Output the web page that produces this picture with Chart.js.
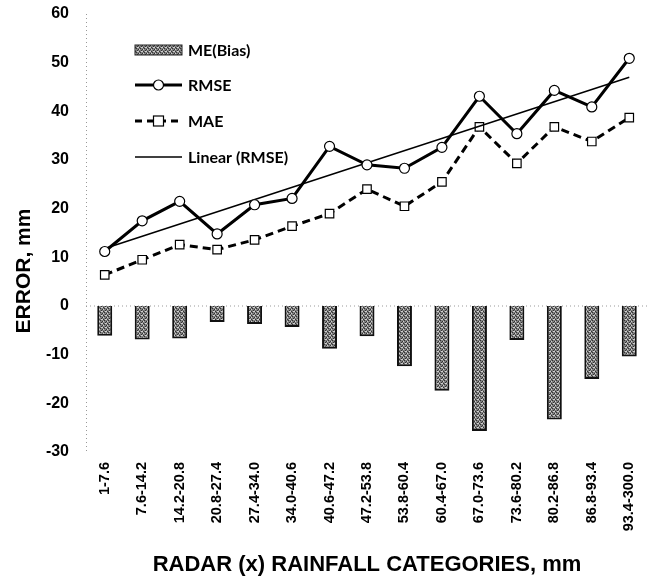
<!DOCTYPE html>
<html>
<head>
<meta charset="utf-8">
<script src="https://cdn.jsdelivr.net/npm/chart.js@4"></script>
<style>
    html, body { margin: 0; padding: 0; background: #fff; }
    #wrap { width: 649px; height: 581px; }
</style>
</head>
<body>
<div id="wrap"><canvas id="chart" width="649" height="581"></canvas></div>
<script>
const categories = ['1-7.6', '7.6-14.2', '14.2-20.8', '20.8-27.4', '27.4-34.0', '34.0-40.6', '40.6-47.2', '47.2-53.8',
    '53.8-60.4', '60.4-67.0', '67.0-73.6', '73.6-80.2', '80.2-86.8', '86.8-93.4', '93.4-300.0']
const meBias = [-6.1, -6.9, -6.7, -3.3, -3.7, -4.3, -8.8, -6.2, -12.4, -17.4, -25.7, -7.0, -23.3, -15.0, -10.4]
const rmse = [11.2, 17.5, 21.5, 14.8, 20.8, 22.1, 32.8, 29.0, 28.3, 32.6, 43.1, 35.4, 44.3, 40.9, 50.9]
const mae = [6.4, 9.5, 12.6, 11.6, 13.6, 16.4, 19.0, 24.0, 20.5, 25.5, 36.8, 29.3, 36.8, 33.8, 38.7]
// trend line ends
const rmseTrend = [11.8, null, null, null, null, null, null, null, null, null, null, null, null, null, 47.0]
const yMin = -30
const yMax = 60
const yStep = 10

const FONT = '"Liberation Sans", Arial, sans-serif'

// stippled grey fill for the bars
function stipple() {
    const c = document.createElement('canvas')
    c.width = 4
    c.height = 4
    const g = c.getContext('2d')
    g.fillStyle = '#808080'
    g.fillRect(0, 0, 4, 4)
    g.fillStyle = '#333'
    g.fillRect(0, 0, 1, 1)
    g.fillRect(2, 1, 1, 1)
    g.fillRect(1, 2, 1, 1)
    g.fillRect(3, 3, 1, 1)
    g.fillStyle = '#d0d0d0'
    g.fillRect(3, 1, 1, 1)
    g.fillRect(1, 3, 1, 1)
    g.fillRect(2, 3, 1, 1)
    return document.getElementById('chart').getContext('2d').createPattern(c, 'repeat')
}
const barFill = stipple()

// dotted axis line and zero line
const axisLines = {
    id: 'axisLines',
    beforeDatasetsDraw(chart) {
        const { ctx, chartArea, scales } = chart
        const y0 = scales.y.getPixelForValue(0)
        ctx.save()
        ctx.strokeStyle = '#999'
        ctx.lineWidth = 1
        ctx.setLineDash([1, 3])
        ctx.beginPath()
        ctx.moveTo(chartArea.left + 0.5, chartArea.top)
        ctx.lineTo(chartArea.left + 0.5, chartArea.bottom)
        ctx.moveTo(chartArea.left, y0)
        ctx.lineTo(chartArea.right, y0)
        ctx.stroke()
        ctx.restore()
    }
}

// y title sits a bit below the middle in the original
const yTitle = {
    id: 'yTitle',
    afterDraw(chart) {
        const { ctx, chartArea } = chart
        ctx.save()
        ctx.translate(24, (chartArea.top + chartArea.bottom) / 2 + 38)
        ctx.rotate(-Math.PI / 2)
        ctx.font = 'bold 21px ' + FONT
        ctx.fillStyle = '#000'
        ctx.textAlign = 'center'
        ctx.textBaseline = 'middle'
        ctx.fillText('ERROR, mm', 0, 0)
        ctx.restore()
    }
}

// legend drawn inside the plot, top left
const innerLegend = {
    id: 'innerLegend',
    afterDraw(chart) {
        const { ctx, chartArea } = chart
        const x0 = chartArea.left + 49
        const x1 = x0 + 47
        const rows = [chartArea.top + 36, chartArea.top + 71, chartArea.top + 107, chartArea.top + 143]
        ctx.save()
        // ME(Bias)
        ctx.fillStyle = barFill
        ctx.fillRect(x0, rows[0] - 5, 47, 10)
        ctx.strokeStyle = '#222'
        ctx.lineWidth = 1
        ctx.strokeRect(x0, rows[0] - 5, 47, 10)
        // RMSE
        ctx.strokeStyle = '#000'
        ctx.lineWidth = 3
        ctx.beginPath()
        ctx.moveTo(x0, rows[1])
        ctx.lineTo(x1, rows[1])
        ctx.stroke()
        ctx.fillStyle = '#fff'
        ctx.lineWidth = 1.2
        ctx.beginPath()
        ctx.arc((x0 + x1) / 2, rows[1], 5, 0, Math.PI * 2)
        ctx.fill()
        ctx.stroke()
        // MAE
        ctx.lineWidth = 3
        ctx.setLineDash([7, 5])
        ctx.beginPath()
        ctx.moveTo(x0, rows[2])
        ctx.lineTo(x1, rows[2])
        ctx.stroke()
        ctx.setLineDash([])
        ctx.lineWidth = 1.2
        ctx.fillRect((x0 + x1) / 2 - 5, rows[2] - 5, 10, 10)
        ctx.strokeRect((x0 + x1) / 2 - 5, rows[2] - 5, 10, 10)
        // Linear (RMSE)
        ctx.lineWidth = 1.5
        ctx.beginPath()
        ctx.moveTo(x0, rows[3])
        ctx.lineTo(x1, rows[3])
        ctx.stroke()

        ctx.fillStyle = '#000'
        ctx.font = 'bold 16px Lato, "Open Sans", sans-serif'
        ctx.textBaseline = 'middle'
        const names = ['ME(Bias)', 'RMSE', 'MAE', 'Linear (RMSE)']
        names.forEach((n, i) => ctx.fillText(n, x1 + 6, rows[i] + 1))
        ctx.restore()
    }
}

new Chart(document.getElementById('chart'), {
    type: 'bar',
    data: {
        labels: categories,
        datasets: [
            {
                type: 'line',
                label: 'Linear (RMSE)',
                data: rmseTrend,
                spanGaps: true,
                borderColor: '#000',
                borderWidth: 1.5,
                pointRadius: 0,
                order: 1
            },
            {
                type: 'line',
                label: 'MAE',
                data: mae,
                borderColor: '#000',
                borderWidth: 3,
                borderDash: [8, 5],
                pointStyle: 'rect',
                pointRadius: 6,
                pointBackgroundColor: '#fff',
                pointBorderColor: '#000',
                pointBorderWidth: 1.2,
                order: 2
            },
            {
                type: 'line',
                label: 'RMSE',
                data: rmse,
                borderColor: '#000',
                borderWidth: 3,
                pointStyle: 'circle',
                pointRadius: 5,
                pointBackgroundColor: '#fff',
                pointBorderColor: '#000',
                pointBorderWidth: 1.2,
                order: 0
            },
            {
                label: 'ME(Bias)',
                data: meBias,
                backgroundColor: barFill,
                borderColor: '#111',
                borderWidth: 2,
                categoryPercentage: 1,
                barPercentage: 0.4,
                order: 5
            }
        ]
    },
    options: {
        responsive: false,
        animation: false,
        layout: { autoPadding: false, padding: { top: 14, right: 1, left: 46, bottom: 0 } },
        plugins: {
            legend: { display: false },
            tooltip: { enabled: false }
        },
        scales: {
            x: {
                grid: { display: false, drawTicks: false },
                border: { display: false },
                ticks: {
                    color: '#000',
                    font: { family: FONT, size: 14.5, weight: 'bold' },
                    minRotation: 90,
                    maxRotation: 90,
                    autoSkip: false,
                    padding: 10
                },
                title: {
                    display: true,
                    text: 'RADAR (x) RAINFALL CATEGORIES, mm',
                    color: '#000',
                    font: { family: FONT, size: 22, weight: 'bold' },
                    padding: { top: 10, bottom: 3 }
                },
                afterFit(scale) {
                    scale.height = 129
                    scale.paddingLeft = 0
                    scale.paddingRight = 0
                }
            },
            y: {
                min: yMin,
                max: yMax,
                grid: { display: false, drawTicks: false },
                border: { display: false },
                ticks: {
                    stepSize: yStep,
                    color: '#000',
                    font: { family: FONT, size: 16, weight: 'bold' },
                    padding: 17
                },
                afterFit(scale) {
                    scale.width = 40
                    scale.paddingTop = 0
                    scale.paddingBottom = 0
                }
            }
        }
    },
    plugins: [axisLines, yTitle, innerLegend]
})
</script>
</body>
</html>
